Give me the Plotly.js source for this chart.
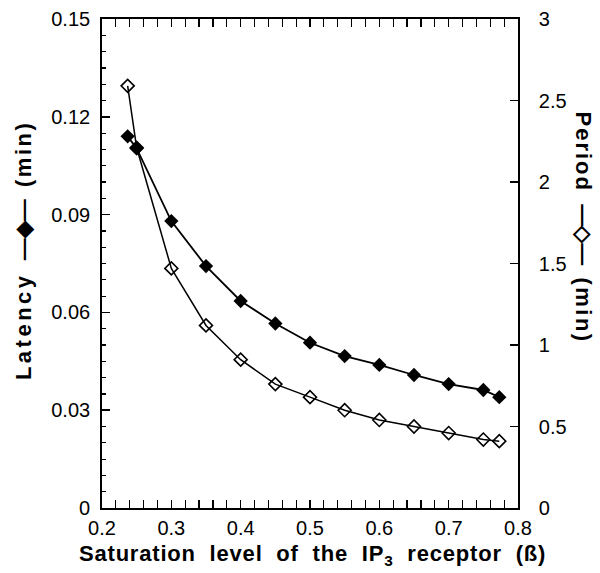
<!DOCTYPE html>
<html>
<head>
<meta charset="utf-8">
<script src="https://cdn.plot.ly/plotly-3.0.1.min.js"></script>
<style>html,body{margin:0;padding:0;background:#fff;}#chart{width:600px;height:573px;}</style>
</head>
<body>
<div id="chart"></div>
<script>
const beta = [0.237, 0.25, 0.30, 0.35, 0.40, 0.45, 0.50, 0.55, 0.60, 0.65, 0.70, 0.75, 0.773];
const latency = [0.1140, 0.1103, 0.0880, 0.0742, 0.0635, 0.0566, 0.0507, 0.0466, 0.0439, 0.0408, 0.0380, 0.0362, 0.0340];
const period = [2.59, 2.21, 1.47, 1.12, 0.91, 0.76, 0.68, 0.60, 0.54, 0.50, 0.46, 0.42, 0.41];
const xTitle = '<span style="letter-spacing:0.8px">Saturation&nbsp; level&nbsp; of&nbsp; the&nbsp; IP<sub>3</sub>&nbsp; receptor&nbsp; (ß)</span>';
const yTitle = '<span style="letter-spacing:3.5px">Latency</span>&nbsp; —◆—&nbsp; <span style="letter-spacing:2.5px">(min)</span>';
const y2Title = '<span style="letter-spacing:2px">Period</span>&nbsp; —◇—&nbsp; <span style="letter-spacing:2.5px">(min)</span>';

const F = '"Liberation Sans", Arial, Helvetica, sans-serif';
const traces = [
  {x: beta, y: period, yaxis: 'y2', mode: 'lines+markers', type: 'scatter',
   line: {color: '#000', width: 1.5},
   marker: {symbol: 'diamond-open', size: 10, color: '#000', line: {width: 1.6, color: '#000'}}},
  {x: beta, y: latency, mode: 'lines+markers', type: 'scatter',
   line: {color: '#000', width: 1.8},
   marker: {symbol: 'diamond', size: 11, color: '#000'}}
];
const layout = {
  width: 600, height: 573,
  margin: {l: 102, r: 82, t: 19, b: 65},
  showlegend: false,
  paper_bgcolor: '#fff', plot_bgcolor: '#fff',
  font: {family: F, color: '#000'},
  xaxis: {range: [0.2, 0.8], dtick: 0.1, tick0: 0.2, tickformat: '.1f',
    ticks: 'inside', ticklen: 8, tickwidth: 1.5, tickcolor: '#000',
    minor: {dtick: 0.02, ticks: 'inside', ticklen: 4, tickwidth: 1.2, tickcolor: '#000'},
    showline: true, linewidth: 1.8, linecolor: '#000', mirror: 'allticks',
    showgrid: false, zeroline: false, ticklabelstandoff: 1,
    tickfont: {size: 20, family: F, color: '#000'}},
  yaxis: {range: [0, 0.15], dtick: 0.03, tick0: 0,
    ticks: 'inside', ticklen: 8, tickwidth: 1.5, tickcolor: '#000',
    minor: {dtick: 0.005, ticks: 'inside', ticklen: 4, tickwidth: 1.2, tickcolor: '#000'},
    showline: true, linewidth: 1.8, linecolor: '#000',
    showgrid: false, zeroline: false, ticklabelstandoff: 6,
    tickfont: {size: 20, family: F, color: '#000'}},
  yaxis2: {range: [0, 3], dtick: 0.5, tick0: 0, overlaying: 'y', side: 'right',
    ticks: 'inside', ticklen: 8, tickwidth: 1.5, tickcolor: '#000',
    showline: true, linewidth: 1.8, linecolor: '#000',
    showgrid: false, zeroline: false, ticklabelstandoff: 15,
    tickfont: {size: 20, family: F, color: '#000'}},
  annotations: [
    {text: xTitle, xref: 'paper', yref: 'paper', x: 0.505, y: -0.096, yanchor: 'middle',
     showarrow: false, font: {size: 22, family: F, weight: 'bold', color: '#000'}},
    {text: yTitle, xref: 'paper', yref: 'paper', x: -0.188, xanchor: 'center', y: 0.527, textangle: -90,
     showarrow: false, font: {size: 22, family: F, weight: 'bold', color: '#000'}},
    {text: y2Title, xref: 'paper', yref: 'paper', x: 1.157, xanchor: 'center', y: 0.573, textangle: 90,
     showarrow: false, font: {size: 22, family: F, weight: 'bold', color: '#000'}}
  ]
};
Plotly.newPlot('chart', traces, layout, {displayModeBar: false, staticPlot: true});
</script>
</body>
</html>
